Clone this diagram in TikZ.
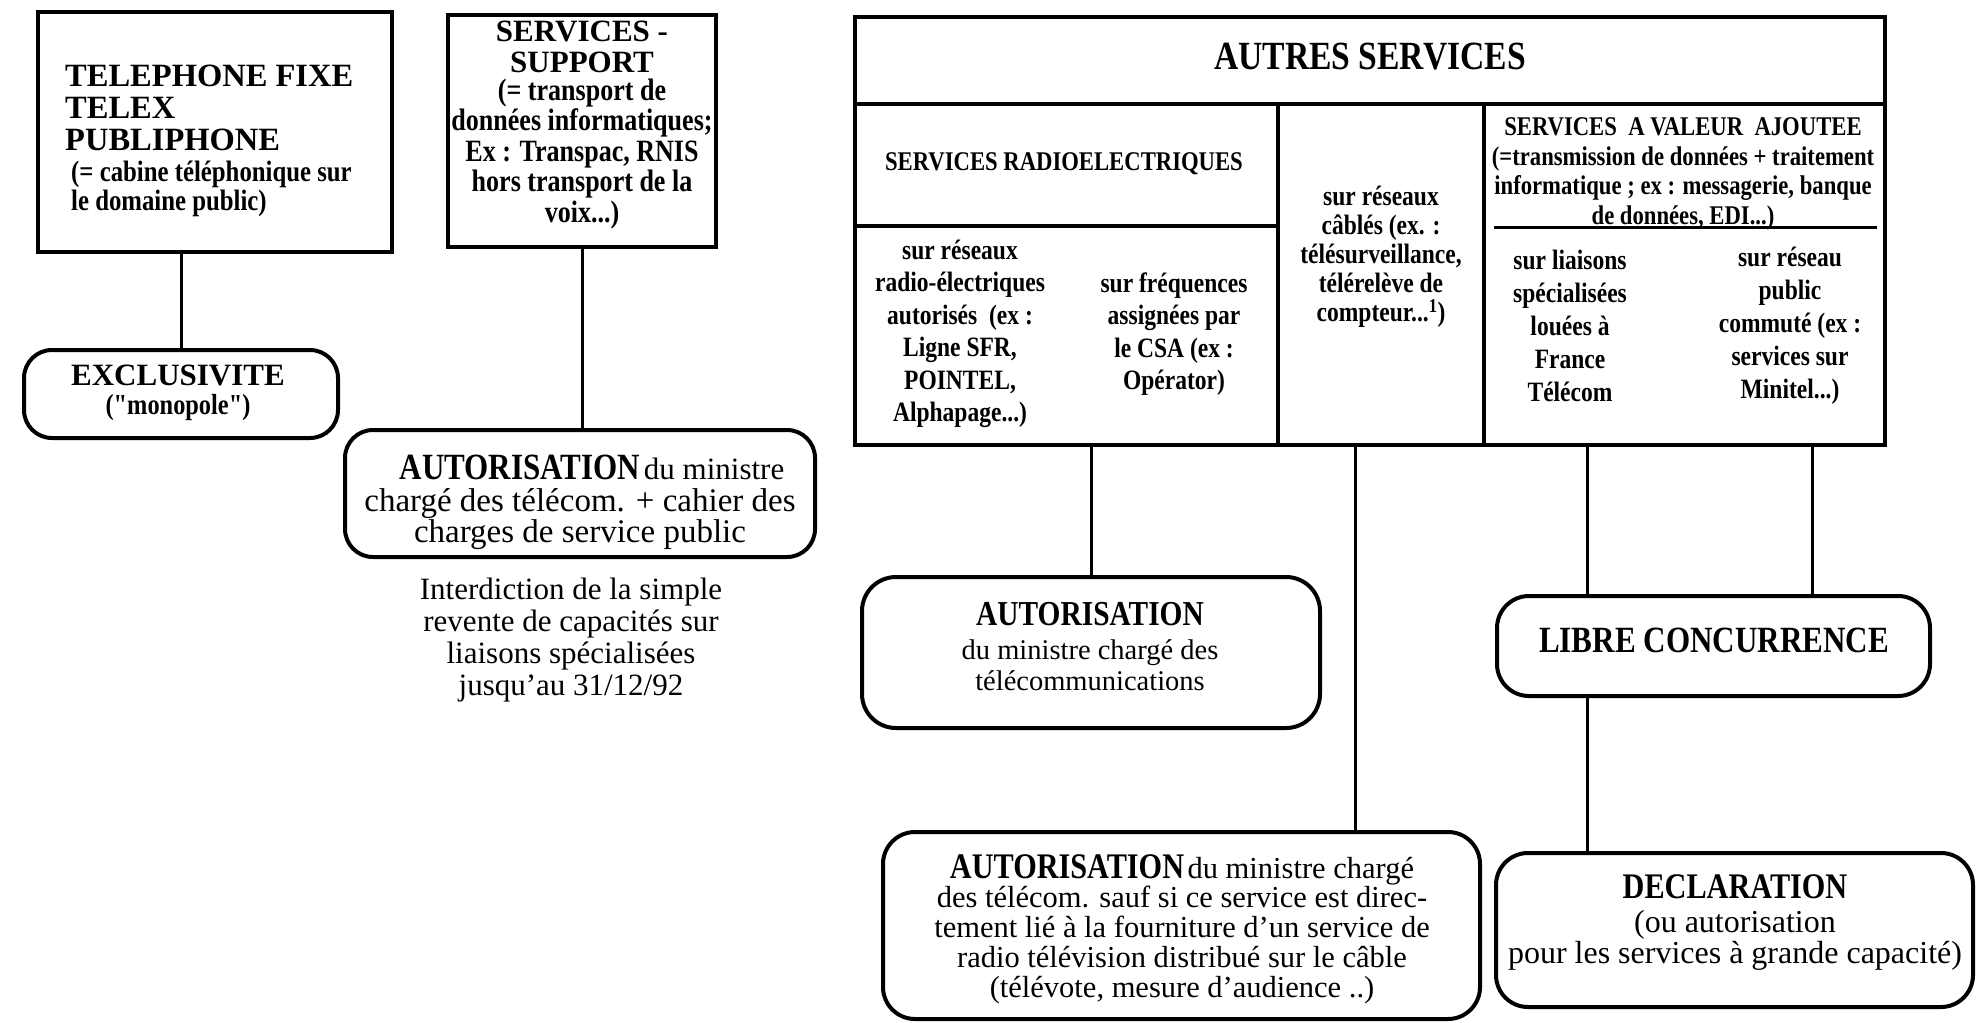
\documentclass[tikz,border=0pt]{standalone}
\usepackage{fontspec}
\setmainfont{Liberation Serif}
\newfontfamily\cond{Liberation Serif}[FakeStretch=0.84]
\usetikzlibrary{calc}
\newcommand\bcf[2]{\cond\bfseries\fontsize{#1}{#2}\selectfont}
\newcommand\buf[2]{\rmfamily\bfseries\fontsize{#1}{#2}\selectfont}
\newcommand\rgf[2]{\rmfamily\mdseries\fontsize{#1}{#2}\selectfont}
\tikzset{
  sq/.style={draw, line width=4, inner sep=0, outer sep=0},
  rbox/.style={draw, line width=4, rounded corners=28, inner sep=0, outer sep=0},
  wire/.style={line width=3},
  rule/.style={line width=3.5},
  tx/.style={align=center, inner sep=0},
  txl/.style={align=left, inner sep=0, anchor=west},
}
\begin{document}
\begin{tikzpicture}[x=1pt,y=-1pt]
\useasboundingbox[fill=white] (0,0) rectangle (1977,1022);

% ---------- left part ----------
\node[sq, minimum width=354, minimum height=240] (tel) at (215,132) {};
\node[txl, font={\buf{32.5}{32}}] (telh) at (65,108) {TELEPHONE FIXE\\TELEX\\PUBLIPHONE};
\node[txl, font={\bcf{29.5}{29}}] (tels) at (71,189) {(= cabine téléphonique sur\\le domaine public)};

\node[sq, minimum width=268, minimum height=232] (sup) at (582,131) {};
\node[tx, font={\buf{31}{31}}] (suph) at (582,47) {SERVICES -\\SUPPORT};
\node[tx, font={\bcf{31}{30.5}}] (supb) at (582,154) {(= transport de\\données informatiques;\\Ex : Transpac, RNIS\\hors transport de la\\voix...)};

\node[rbox, minimum width=314, minimum height=88] (excl) at (181,394) {};
\node[tx, font={\buf{31}{32}}] (exclt) at (178,375) {EXCLUSIVITE};
\node[tx, font={\bcf{29}{30}}] (excls) at (178,408) {("monopole")};

\node[rbox, minimum width=470, minimum height=127] (aut1) at (580,493.5) {};
\node[tx] (a1l1) at (592,467) {{\bcf{37}{40}AUTORISATION}\hspace{0.35em}{\rgf{31}{32}du ministre}};
\node[tx, font={\rgf{33}{30}}] (a1l2) at (580,519) {chargé des télécom. + cahier des\\charges de service public};

\node[tx, font={\rgf{31}{32}}] (interd) at (571,640) {Interdiction de la simple\\revente de capacités sur\\liaisons spécialisées\\jusqu'au 31/12/92};

\draw[wire] (tel.south -| excl.north) -- (excl.north);
\draw[wire] (sup.south) -- (sup.south |- aut1.north);

% ---------- AUTRES SERVICES table ----------
\node[sq, minimum width=1030, minimum height=428] (big) at (1370,231) {};
\draw[rule] (855,104) -- (1885,104);
\draw[rule] (1278,104) -- (1278,445);
\draw[rule] (1484,104) -- (1484,445);
\draw[rule] (855,226) -- (1278,226);
\draw[wire] (1494,227) -- (1877,227);

\node[tx, font={\bcf{40}{42}}] (titre) at (1370,57) {AUTRES SERVICES};
\node[tx, font={\bcf{27}{28}}] (radio) at (1064,164) {SERVICES RADIOELECTRIQUES};
\node[tx, font={\bcf{28}{32.5}}] (sc1) at (960,334) {sur réseaux\\radio-électriques\\autorisés\ \ (ex :\\Ligne SFR,\\POINTEL,\\Alphapage...)};
\node[tx, font={\bcf{28}{32.5}}] (sc2) at (1174,334) {sur fréquences\\assignées par\\le CSA (ex :\\Opérator)};
\node[tx, font={\bcf{28}{29}}] (mid) at (1381,257) {sur réseaux\\câblés (ex. :\\télésurveillance,\\télérelève de\\compteur...\textsuperscript{1})};
\node[tx, font={\bcf{27}{29.5}}] (vah) at (1683,174) {SERVICES\ \ A VALEUR\ \ AJOUTEE\\(=transmission de données + traitement\\informatique ; ex : messagerie, banque\\de données, EDI...)};
\node[tx, font={\bcf{28}{33}}] (ls) at (1570,326) {sur liaisons\\spécialisées\\louées à\\France\\Télécom};
\node[tx, font={\bcf{28}{33}}] (rp) at (1790,326) {sur réseau\\public\\commuté (ex :\\services sur\\Minitel...)};

% ---------- lower boxes ----------
\node[rbox, rounded corners=34, minimum width=458, minimum height=151] (aut2) at (1091,652.5) {};
\node[tx, font={\bcf{35}{36}}] (a2t) at (1090,614) {AUTORISATION};
\node[tx, font={\rgf{28.5}{31}}] (a2s) at (1090,665) {du ministre chargé des\\télécommunications};

\node[rbox, rounded corners=32, minimum width=433, minimum height=100] (libre) at (1713.5,646) {};
\node[tx, font={\bcf{37}{38}}] (libret) at (1714,640) {LIBRE CONCURRENCE};

\node[rbox, rounded corners=32, minimum width=597, minimum height=187] (aut3) at (1181.5,925.5) {};
\node[tx] (a3l1) at (1182,870) {{\bcf{36}{37}AUTORISATION}\hspace{0.35em}{\rgf{30.5}{30}du ministre chargé}};
\node[tx, font={\rgf{30.5}{30}}] (a3s) at (1182,945) {des télécom. sauf si ce service est direc-\\tement lié à la fourniture d'un service de\\radio télévision distribué sur le câble\\(télévote, mesure d'audience ..)};

\node[rbox, rounded corners=32, minimum width=477, minimum height=154] (decl) at (1734.5,930) {};
\node[tx, font={\bcf{36}{38}}] (declt) at (1735,887) {DECLARATION};
\node[tx, font={\rgf{32}{31}}] (decls) at (1735,940) {(ou autorisation\\pour les services à grande capacité)};

% ---------- connectors ----------
\path (big.south west) ++(500,0) coordinate (k3);
\path (big.south west) ++(732,0) coordinate (k4);
\path (big.south west) ++(957,0) coordinate (k5);
\path (libre.south west) ++(90,0) coordinate (k6);
\draw[wire] (big.south -| aut2.north) -- (aut2.north);
\draw[wire] (k3) -- (k3 |- aut3.north);
\draw[wire] (k4) -- (k4 |- libre.north);
\draw[wire] (k5) -- (k5 |- libre.north);
\draw[wire] (k6) -- (k6 |- decl.north);
\end{tikzpicture}
\end{document}
